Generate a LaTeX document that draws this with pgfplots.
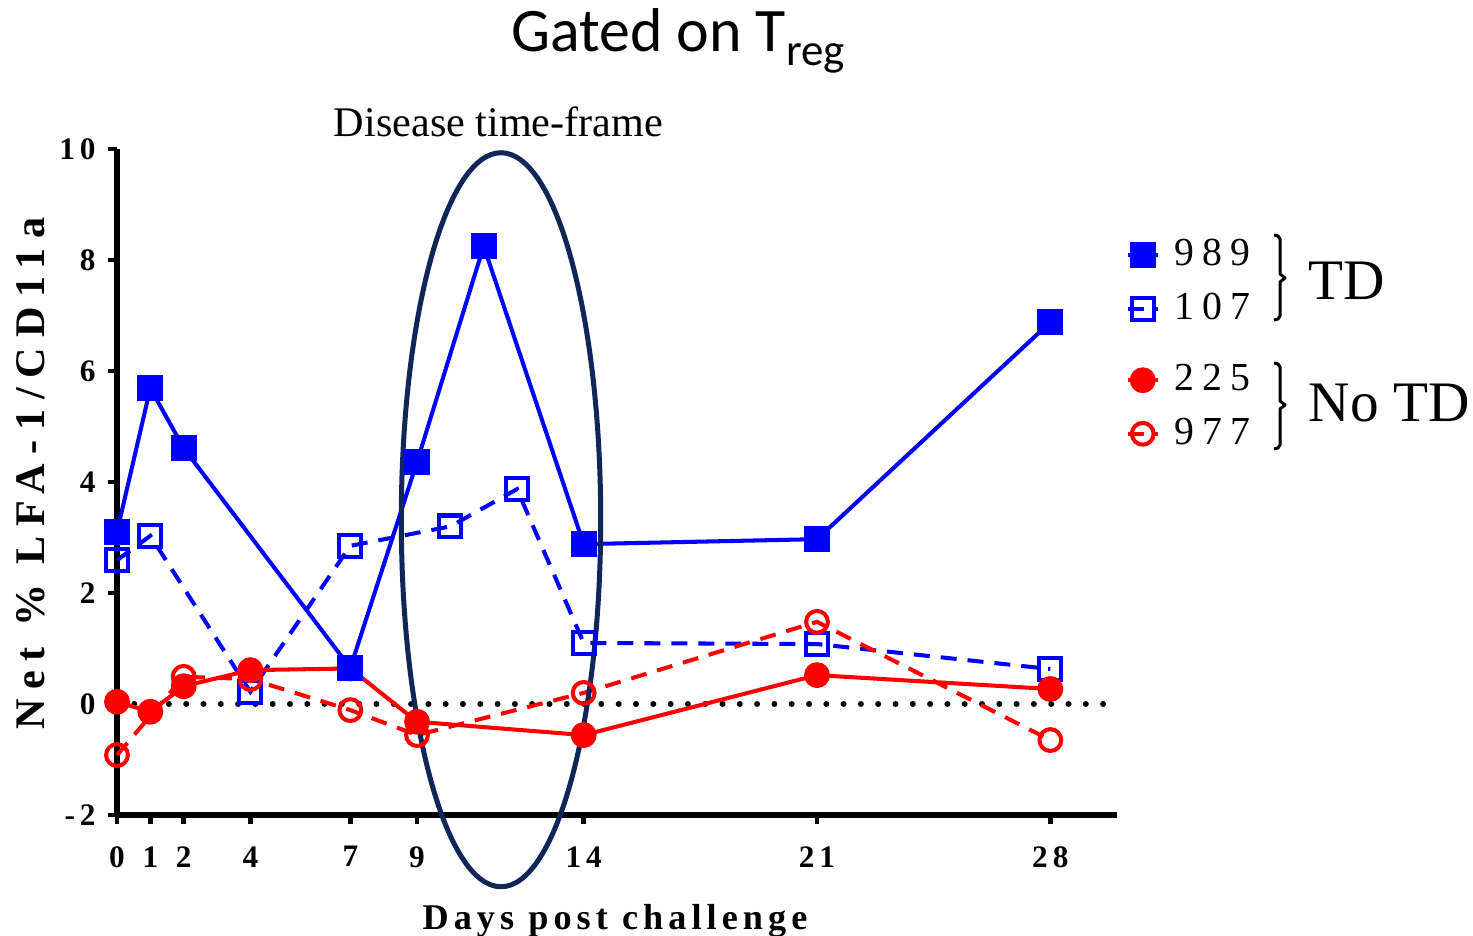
\documentclass[border=0pt]{standalone}
\usepackage{pgfplots}
\pgfplotsset{compat=1.18}
\usepackage{fontspec}
\setmainfont{Liberation Serif}
\newfontfamily\calibri{Carlito}
\newfontfamily\tickf{Liberation Serif}[LetterSpace=16]
\newfontfamily\ylabf{Liberation Serif}[LetterSpace=23]
\newfontfamily\xlabf{Liberation Serif}[LetterSpace=14]
\newfontfamily\legf{Liberation Serif}[LetterSpace=20]
\definecolor{navy}{RGB}{16,37,88}
\pgfplotsset{
  s989/.style={blue, line width=1.15pt, solid, mark=square*, mark size=3.1pt, mark options={solid}},
  s107/.style={blue, line width=1.15pt, dash pattern=on 1.6mm off 1.1mm, mark=square, mark size=3.1pt, mark options={solid}},
  s225/.style={red, line width=1.15pt, solid, mark=*, mark size=3.1pt, mark options={solid}},
  s977/.style={red, line width=1.15pt, dash pattern=on 1.6mm off 1.1mm, mark=o, mark size=3.1pt, mark options={solid}},
  base/.style={
    at={(0,0)}, anchor=south west,
    scale only axis, width=10cm, height=6.66cm,
    xmin=0, xmax=30, ymin=-2, ymax=10,
    clip=false,
    legend image code/.code={\draw[mark repeat=2,mark phase=2,##1] plot coordinates {(0cm,0cm) (0.15cm,0cm) (0.3cm,0cm)};},
    legend cell align=left,
  },
  legst/.style={legend style={draw=none, fill=none, inner sep=0pt, row sep=0.22cm, column sep=0.15cm,
     font=\legf\fontsize{11.3}{13}\selectfont, nodes={inner sep=0pt}}},
}
\begin{document}
\begin{tikzpicture}
\path[use as bounding box] (-1.17,-1.21) rectangle (13.56,8.15);
\begin{axis}[base, legst,
  axis x line*=bottom, axis y line*=left,
  axis line style={line width=1.5pt, -},
  tick style={line width=1.4pt, black},
  tick align=outside, major tick length=0.09cm,
  xtick={0,1,2,4,7,9,14,21,28},
  xticklabels={0,1,2,4,7,9,14,21,28},
  ytick={-2,0,2,4,6,8,10},
  yticklabels={-2,0,2,4,6,8,10},
  minor tick num=0,
  tick label style={font=\tickf\bfseries\fontsize{8.9}{10}\selectfont},
  xticklabel style={yshift=-0.1cm},
  legend style={at={(1.008,0.80)}, anchor=west},
]
\addplot[forget plot, black, line width=0.6mm, line cap=round, dash pattern=on 0pt off 1.73mm] coordinates {(0,0) (29.7,0)};
% 107
\addplot[s107, forget plot] coordinates {(0,2.59) (1,3.03) (4,0.22) (7,2.85) (10,3.2) (12,3.87) (14,1.1) (21,1.08) (28,0.63)};
% 225
\addplot[s225, forget plot] coordinates {(0,0.04) (1,-0.14) (2,0.32) (4,0.61) (7,0.64) (9,-0.32) (14,-0.56) (21,0.52) (28,0.27)};
% 977
\addplot[s977, forget plot] coordinates {(0,-0.92) (2,0.49) (4,0.45) (7,-0.11) (9,-0.56) (14,0.2) (21,1.48) (28,-0.65)};
% 989
\addplot[s989, forget plot] coordinates {(0,3.1) (1,5.69) (2,4.61) (7,0.65) (9,4.36) (11,8.25) (14,2.88) (21,2.97) (28,6.88)};
\draw[navy, line width=0.5mm] (axis cs:11.52,3.32) ellipse [x radius=0.997cm, y radius=3.67cm];
\addlegendimage{s989}\addlegendentry{989}
\addlegendimage{s107}\addlegendentry{107}
\end{axis}
\begin{axis}[base, legst, hide axis,
  legend style={at={(1.008,0.6126)}, anchor=west}]
\addlegendimage{s225}\addlegendentry{225}
\addlegendimage{s977}\addlegendentry{977}
\end{axis}
% braces
\draw[line width=0.3mm, line join=round] (11.57,5.80) -- (11.61,5.79) -- (11.63,5.76) -- (11.63,5.41) -- (11.68,5.37) -- (11.63,5.33) -- (11.63,4.99) -- (11.61,4.96) -- (11.57,4.95);
\draw[line width=0.3mm, line join=round] (11.57,4.52) -- (11.61,4.51) -- (11.63,4.48) -- (11.63,4.14) -- (11.68,4.10) -- (11.63,4.06) -- (11.63,3.70) -- (11.61,3.67) -- (11.57,3.66);
\node[anchor=base west, inner sep=0pt, font=\fontsize{16.3}{18}\selectfont] at (11.91,5.15) {TD};
\node[anchor=base west, inner sep=0pt, font=\fontsize{16.3}{18}\selectfont] at (11.91,3.93) {No TD};
% texts
\node[anchor=base, inner sep=0pt, font=\calibri\fontsize{17.6}{20}\selectfont] at (5.61,7.63) {Gated on T\raisebox{-0.22em}{\fontsize{12.8}{14}\selectfont reg}};
\node[anchor=base, inner sep=0pt, font=\fontsize{12}{14}\selectfont] at (3.815,6.78) {Disease time-frame};
\node[anchor=base, inner sep=0pt, rotate=90, font=\ylabf\bfseries\fontsize{12}{14}\selectfont] at (-0.72,3.415) {Net \% LFA-1/CD11a};
\node[anchor=base, inner sep=0pt, font=\xlabf\bfseries\fontsize{10.3}{12}\selectfont] at (4.98,-1.15) {Days post challenge};
\end{tikzpicture}
\end{document}
